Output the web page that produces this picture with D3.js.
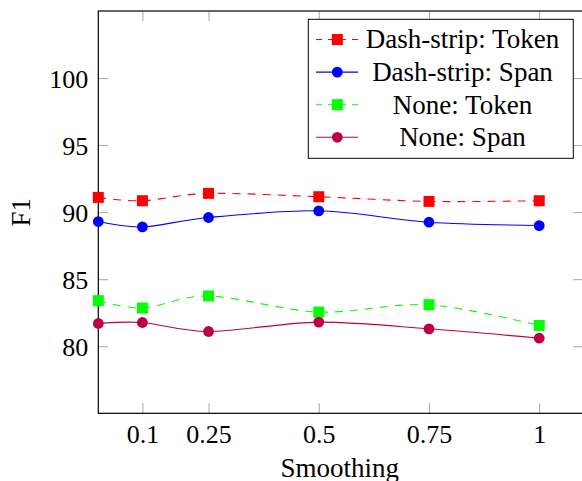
<!DOCTYPE html>
<html>
<head>
<meta charset="utf-8">
<script src="https://cdn.jsdelivr.net/npm/d3@7/dist/d3.min.js"></script>
<style>
  html, body { margin: 0; padding: 0; background: #fff; }
  svg { display: block; }
</style>
</head>
<body>
<svg id="chart" width="582" height="481"></svg>
<script>
// ---- data ----
const smoothing = [0, 0.1, 0.25, 0.5, 0.75, 1];
const dashStripToken = [91.1, 90.85, 91.4, 91.15, 90.8, 90.85];
const dashStripSpan  = [89.3, 88.9, 89.6, 90.1, 89.25, 89.0];
const noneToken      = [83.4, 82.85, 83.75, 82.55, 83.1, 81.55];
const noneSpan       = [81.7, 81.77, 81.1, 81.8, 81.3, 80.6];
const xTicks = [0.1, 0.25, 0.5, 0.75, 1];
const xTickLabels = ["0.1", "0.25", "0.5", "0.75", "1"];
const yTicks = [80, 85, 90, 95, 100];
const seriesNames = ["Dash-strip: Token", "Dash-strip: Span", "None: Token", "None: Span"];

const series = [
  { name: seriesNames[0], values: dashStripToken, color: "#ff0000", dash: "8,7", mark: "square" },
  { name: seriesNames[1], values: dashStripSpan,  color: "#0000ff", dash: null,  mark: "circle" },
  { name: seriesNames[2], values: noneToken,      color: "#00ff00", dash: "8,7", mark: "square" },
  { name: seriesNames[3], values: noneSpan,       color: "#bf0040", dash: null,  mark: "circle" }
];

const FONT = "'Liberation Serif', serif";
const svg = d3.select("#chart");
const pLeft = 98.3, pRight = 583.3, pTop = 11, pBottom = 413.3;

const x = d3.scaleLinear().domain([0, 1.1]).range([pLeft, pRight]);
const y = d3.scaleLinear().domain([75, 105]).range([pBottom, pTop]);

const tickColor = "#a6a6a6";
const tickLen = 10;

// ticks
const gB = svg.append("g").attr("transform", `translate(0,${pBottom})`)
  .call(d3.axisBottom(x).tickValues(xTicks).tickFormat((d, i) => xTickLabels[i]).tickSizeInner(-tickLen).tickSizeOuter(0));
const gT = svg.append("g").attr("transform", `translate(0,${pTop})`)
  .call(d3.axisTop(x).tickValues(xTicks).tickFormat("").tickSizeInner(-tickLen).tickSizeOuter(0));
const gL = svg.append("g").attr("transform", `translate(${pLeft},0)`)
  .call(d3.axisLeft(y).tickValues(yTicks).tickFormat(d3.format("d")).tickSizeInner(-tickLen).tickSizeOuter(0));
const gR = svg.append("g").attr("transform", `translate(${pRight},0)`)
  .call(d3.axisRight(y).tickValues(yTicks).tickFormat("").tickSizeInner(-tickLen).tickSizeOuter(0));

[gB, gT, gL, gR].forEach(g => {
  g.attr("font-family", null).attr("font-size", null);
  g.select(".domain").remove();
  g.selectAll(".tick line").attr("stroke", tickColor).attr("stroke-width", 1);
});
gB.selectAll(".tick text").attr("y", 30).attr("dy", 0)
  .attr("font-family", FONT).style("font-family", FONT).style("font-size", "26px").attr("fill", "#000");
gL.selectAll(".tick text").attr("x", -10).attr("dy", "0.36em")
  .attr("font-family", FONT).style("font-family", FONT).style("font-size", "26px").attr("fill", "#000");
gT.selectAll(".tick text").remove();
gR.selectAll(".tick text").remove();

// frame
svg.append("rect")
  .attr("x", pLeft).attr("y", pTop)
  .attr("width", pRight - pLeft).attr("height", pBottom - pTop)
  .attr("fill", "none").attr("stroke", "#000").attr("stroke-width", 1.2);

// lines + markers
const line = d3.line()
  .x((d, i) => x(smoothing[i]))
  .y(d => y(d))
  .curve(d3.curveCardinal.tension(0.1));

function drawMark(g, type, cx, cy, color) {
  if (type === "square") {
    g.append("rect").attr("x", cx - 5.5).attr("y", cy - 5.5)
      .attr("width", 11).attr("height", 11).attr("fill", color);
  } else {
    g.append("circle").attr("cx", cx).attr("cy", cy).attr("r", 5.4).attr("fill", color);
  }
}

series.forEach(s => {
  const g = svg.append("g");
  g.append("path").datum(s.values)
    .attr("d", line)
    .attr("fill", "none")
    .attr("stroke", s.color)
    .attr("stroke-width", 1.1)
    .attr("stroke-dasharray", s.dash);
  s.values.forEach((v, i) => drawMark(g, s.mark, x(smoothing[i]), y(v), s.color));
});

// axis labels
svg.append("text")
  .attr("x", (pLeft + pRight) / 2 - 1).attr("y", 477)
  .attr("text-anchor", "middle")
  .attr("font-family", FONT).style("font-family", FONT)
  .style("font-size", "27px").attr("fill", "#000")
  .text("Smoothing");

svg.append("text")
  .attr("transform", `translate(30,${(pTop + pBottom) / 2}) rotate(-90)`)
  .attr("text-anchor", "middle")
  .attr("font-family", FONT).style("font-family", FONT)
  .style("font-size", "27px").attr("fill", "#000")
  .text("F1");

// legend
const lg = svg.append("g");
lg.append("rect")
  .attr("x", 308.3).attr("y", 19.3)
  .attr("width", 265).attr("height", 139)
  .attr("fill", "#fff").attr("stroke", "#000").attr("stroke-width", 1);

series.forEach((s, i) => {
  const cy = 39.5 + i * 32.6;
  lg.append("line")
    .attr("x1", 316).attr("x2", 358).attr("y1", cy).attr("y2", cy)
    .attr("stroke", s.color).attr("stroke-width", 1.1)
    .attr("stroke-dasharray", s.dash ? "6,6" : null);
  drawMark(lg, s.mark, 337.3, cy, s.color);
  lg.append("text")
    .attr("x", 462.5).attr("y", cy).attr("dy", "0.33em")
    .attr("text-anchor", "middle")
    .attr("font-family", FONT).style("font-family", FONT)
    .style("font-size", "27px").attr("fill", "#000")
    .text(s.name);
});
</script>
</body>
</html>
